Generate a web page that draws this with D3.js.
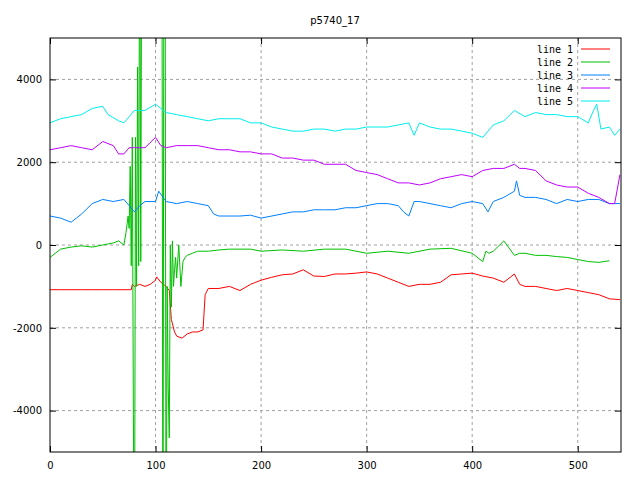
<!DOCTYPE html><html><head><meta charset="utf-8"><script src="https://cdn.jsdelivr.net/npm/d3@7"></script>
<style>body{margin:0;background:#fff}text{font-family:"DejaVu Sans",sans-serif;font-size:10px}</style></head><body>
<svg id="c" width="640" height="480"></svg>
<script>
const title="p5740_17";
const xTicks=[0,100,200,300,400,500];
const yTicks=[-4000,-2000,0,2000,4000];
const names=["line 1","line 2","line 3","line 4","line 5"];
const colors=["#ff0000","#00c000","#0080ff","#c000ff","#00eeee"];
const x1=[0,10,20,30,40,50,60,70,75,77,78,80,85,90,95,100,101,105,110,113,115,118,120,125,130,135,140,145,147,150,160,170,180,190,195,200,210,220,230,240,250,260,270,280,290,300,310,320,330,340,350,360,370,380,390,400,410,420,430,440,445,450,460,470,480,490,500,510,520,530,540];
const y1=[-1080,-1080,-1080,-1080,-1080,-1080,-1080,-1080,-1080,-1080,-950,-1000,-950,-1000,-950,-850,-770,-900,-1000,-1100,-1800,-2100,-2200,-2250,-2150,-2100,-2100,-2050,-1200,-1050,-1050,-1000,-1100,-950,-900,-850,-780,-720,-700,-600,-750,-760,-700,-700,-680,-650,-700,-800,-900,-1000,-950,-950,-900,-720,-700,-680,-750,-800,-900,-700,-950,-1000,-1000,-1050,-1100,-1050,-1100,-1150,-1200,-1300,-1320];
const x2=[0,10,20,30,40,50,60,65,70,72,74,75,76,77,78,79,80,81,82,83,84,85,86,87,106,107,108,109,110,111,112,113,114,115,116,117,118,119,120,122,124,126,128,130,135,140,150,160,170,180,190,200,220,240,260,280,300,320,340,360,380,400,410,413,416,420,430,440,445,450,460,470,480,490,500,510,520,530,540];
const y2=[-300,-100,-50,-20,-50,0,50,100,0,300,700,400,1900,-500,2600,-4100,-9000,2600,-1000,4300,-500,9000,-400,9000,9000,-9000,9000,9000,-9000,-1000,-3450,-4660,0,-1500,100,-1000,-600,-300,-800,0,-1000,-400,-300,-250,-200,-150,-150,-120,-100,-100,-100,-150,-120,-150,-100,-100,-200,-150,-200,-100,-80,-200,-400,-150,-200,-150,100,-250,-200,-200,-250,-250,-280,-300,-350,-400,-420,-380];
const x3=[0,10,20,30,40,50,60,70,75,80,85,90,100,103,110,120,130,140,150,155,160,170,180,190,200,210,220,230,240,250,260,270,280,290,300,310,320,330,335,340,345,350,360,370,380,390,400,410,415,420,430,440,442,445,450,460,470,480,490,500,510,520,530,540];
const y3=[700,650,550,750,1000,1100,1050,1100,950,800,950,1050,1050,1300,1050,1000,1050,1000,950,750,700,700,700,720,650,700,750,800,800,850,850,850,900,900,950,1000,1000,950,800,700,1050,1050,1000,950,900,1000,1050,1000,800,1050,1150,1300,1550,1200,1150,1150,1100,1000,1100,1050,1100,1100,1000,1000];
const x4=[0,10,20,30,40,50,60,65,70,75,80,90,100,105,110,120,130,140,150,160,170,180,190,200,210,220,230,240,250,260,270,280,290,300,310,320,330,340,350,360,370,380,390,400,410,420,430,440,445,450,460,470,480,490,500,510,520,530,535,540];
const y4=[2300,2350,2400,2350,2300,2500,2400,2200,2200,2350,2350,2350,2600,2400,2350,2400,2400,2400,2350,2300,2300,2250,2250,2200,2200,2100,2100,2050,2050,1950,1950,1950,1800,1750,1700,1600,1500,1500,1450,1500,1600,1650,1700,1650,1800,1850,1850,1950,1850,1850,1800,1550,1450,1400,1400,1250,1150,1000,1000,1700];
const x5=[0,10,20,30,40,50,55,65,70,75,80,90,100,110,120,130,140,150,160,170,180,190,200,210,220,230,240,250,260,270,280,290,300,310,320,330,340,345,350,360,370,380,390,400,410,420,430,440,450,460,470,480,490,500,510,515,518,522,530,535,540];
const y5=[2950,3050,3100,3150,3300,3350,3150,3000,2950,3100,3250,3250,3400,3200,3150,3100,3050,3000,3050,3050,3050,2950,2950,2850,2800,2750,2750,2800,2800,2750,2800,2800,2850,2850,2850,2900,2950,2650,2950,2850,2800,2800,2750,2700,2600,2900,3000,3250,3100,3200,3150,3150,3100,3100,2950,3250,3400,2800,2850,2650,2800];
const series=[[x1,y1],[x2,y2],[x3,y3],[x4,y4],[x5,y5]];

const L=50,R=621,T=38,B=452;
const svg=d3.select("#c");
const x=d3.scaleLinear().domain([0,541]).range([L,R]);
const y=d3.scaleLinear().domain([-5000,5000]).range([B,T]);
const fmt=d=>String(d);
svg.append("clipPath").attr("id","cp").append("rect").attr("x",L).attr("y",T).attr("width",R-L).attr("height",B-T);
const g=svg.append("g");
xTicks.forEach(t=>{if(t>0)g.append("line").attr("x1",x(t)).attr("x2",x(t)).attr("y1",T).attr("y2",B).attr("stroke","#a0a0a0").attr("stroke-dasharray","3,3");});
yTicks.forEach(t=>g.append("line").attr("x1",L).attr("x2",R).attr("y1",y(t)).attr("y2",y(t)).attr("stroke","#a0a0a0").attr("stroke-dasharray","3,3"));
svg.append("g").attr("transform",`translate(0,${B})`).call(d3.axisBottom(x).tickValues(xTicks).tickSize(-6).tickPadding(10).tickFormat(fmt));
svg.append("g").attr("transform",`translate(${L},0)`).call(d3.axisLeft(y).tickValues(yTicks).tickSize(-6).tickPadding(8).tickFormat(fmt));
svg.append("g").attr("transform",`translate(0,${T})`).call(d3.axisTop(x).tickValues(xTicks).tickSize(-6).tickFormat(""));
svg.append("g").attr("transform",`translate(${R},0)`).call(d3.axisRight(y).tickValues(yTicks).tickSize(-6).tickFormat(""));
svg.selectAll(".domain").remove();
svg.selectAll(".tick text").attr("fill","#000");
svg.selectAll(".tick line").attr("stroke","#000");
const line=d3.line().x(d=>x(d[0])).y(d=>y(d[1]));
series.forEach((s,i)=>{
  svg.append("path").attr("clip-path","url(#cp)").datum(s[0].map((v,j)=>[v,s[1][j]])).attr("d",line).attr("fill","none").attr("stroke",colors[i]).attr("stroke-width",1);
});
svg.append("rect").attr("x",L).attr("y",T).attr("width",R-L).attr("height",B-T).attr("fill","none").attr("stroke","#000");
svg.append("text").attr("x",335).attr("y",24).attr("text-anchor","middle").text(title);
names.forEach((n,i)=>{
  const yy=49+i*13;
  svg.append("text").attr("x",573).attr("y",yy+4).attr("text-anchor","end").style("font-family","'DejaVu Sans Mono',monospace").text(n);
  svg.append("line").attr("x1",581).attr("x2",610).attr("y1",yy).attr("y2",yy).attr("stroke",colors[i]);
});
</script></body></html>
